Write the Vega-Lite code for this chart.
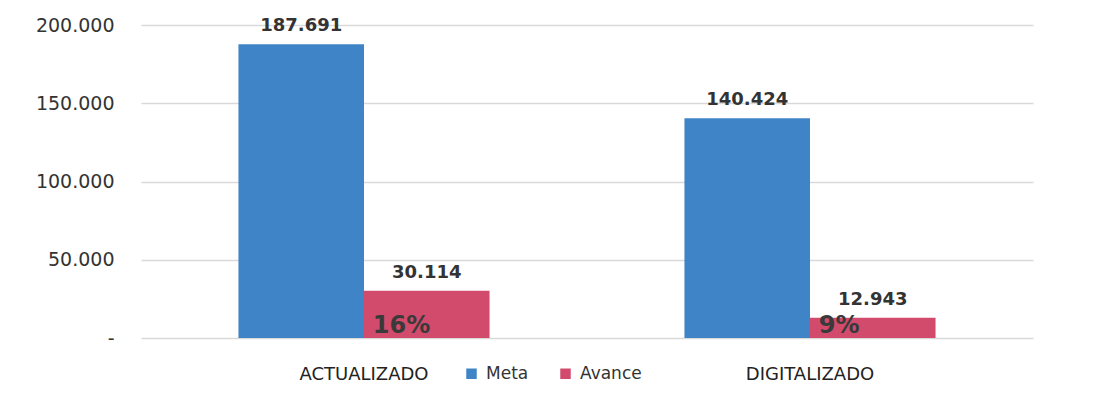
{
  "$schema": "https://vega.github.io/schema/vega-lite/v6.json",
  "autosize": "none",
  "width": 892,
  "height": 313,
  "padding": {"left": 141, "top": 25, "right": 60, "bottom": 63},
  "background": "white",
  "config": {"view": {"stroke": null}, "font": "DejaVu Sans"},
  "data": {
    "values": [
      {"categoria": "ACTUALIZADO", "serie": "Meta", "valor": 187691, "etiqueta": "187.691", "pct": ""},
      {"categoria": "ACTUALIZADO", "serie": "Avance", "valor": 30114, "etiqueta": "30.114", "pct": "16%"},
      {"categoria": "DIGITALIZADO", "serie": "Meta", "valor": 140424, "etiqueta": "140.424", "pct": ""},
      {"categoria": "DIGITALIZADO", "serie": "Avance", "valor": 12943, "etiqueta": "12.943", "pct": "9%"}
    ]
  },
  "encoding": {
    "x": {
      "field": "categoria", "type": "nominal", "sort": ["ACTUALIZADO", "DIGITALIZADO"],
      "scale": {"paddingInner": 0.437, "paddingOuter": 0.2185},
      "axis": {"title": null, "labelAngle": 0, "domain": false, "ticks": false, "labelPadding": 27,
               "labelFontSize": 18, "labelColor": "#222222", "labelFont": "DejaVu Sans"}
    },
    "xOffset": {"field": "serie", "type": "nominal", "sort": ["Meta", "Avance"], "scale": {"paddingInner": 0, "paddingOuter": 0}},
    "y": {
      "field": "valor", "type": "quantitative",
      "scale": {"domain": [0, 200000], "nice": false},
      "axis": {"title": null, "values": [0, 50000, 100000, 150000, 200000], "domain": false, "ticks": false,
               "labelPadding": 27, "labelFontSize": 19, "labelColor": "#333333",
               "gridColor": "#d9d9d9", "gridWidth": 1.5,
               "labelExpr": "datum.value == 0 ? '-' : replace(format(datum.value, ','), ',', '.')"}
    }
  },
  "layer": [
    {
      "mark": {"type": "bar"},
      "encoding": {
        "color": {
          "field": "serie", "type": "nominal", "sort": ["Meta", "Avance"],
          "scale": {"domain": ["Meta", "Avance"], "range": ["#3F84C6", "#D24B6C"]},
          "legend": {"title": null, "orient": "none", "legendX": 322, "legendY": 340, "direction": "horizontal",
                     "symbolType": "square", "symbolSize": 110, "labelFontSize": 17, "labelColor": "#333333",
                     "columnPadding": 28, "labelOffset": 6, "labelFont": "DejaVu Sans"}
        }
      }
    },
    {
      "mark": {"type": "text", "dy": -9, "fontSize": 18, "fontWeight": "bold", "color": "#333333", "baseline": "bottom"},
      "encoding": {"text": {"field": "etiqueta"}}
    },
    {
      "mark": {"type": "text", "align": "left", "baseline": "alphabetic", "dx": -54, "dy": -5, "fontSize": 24, "fontWeight": "bold", "color": "#3a3a3a"},
      "encoding": {
        "y": {"datum": 0, "type": "quantitative"},
        "text": {"field": "pct"}
      }
    }
  ]
}
